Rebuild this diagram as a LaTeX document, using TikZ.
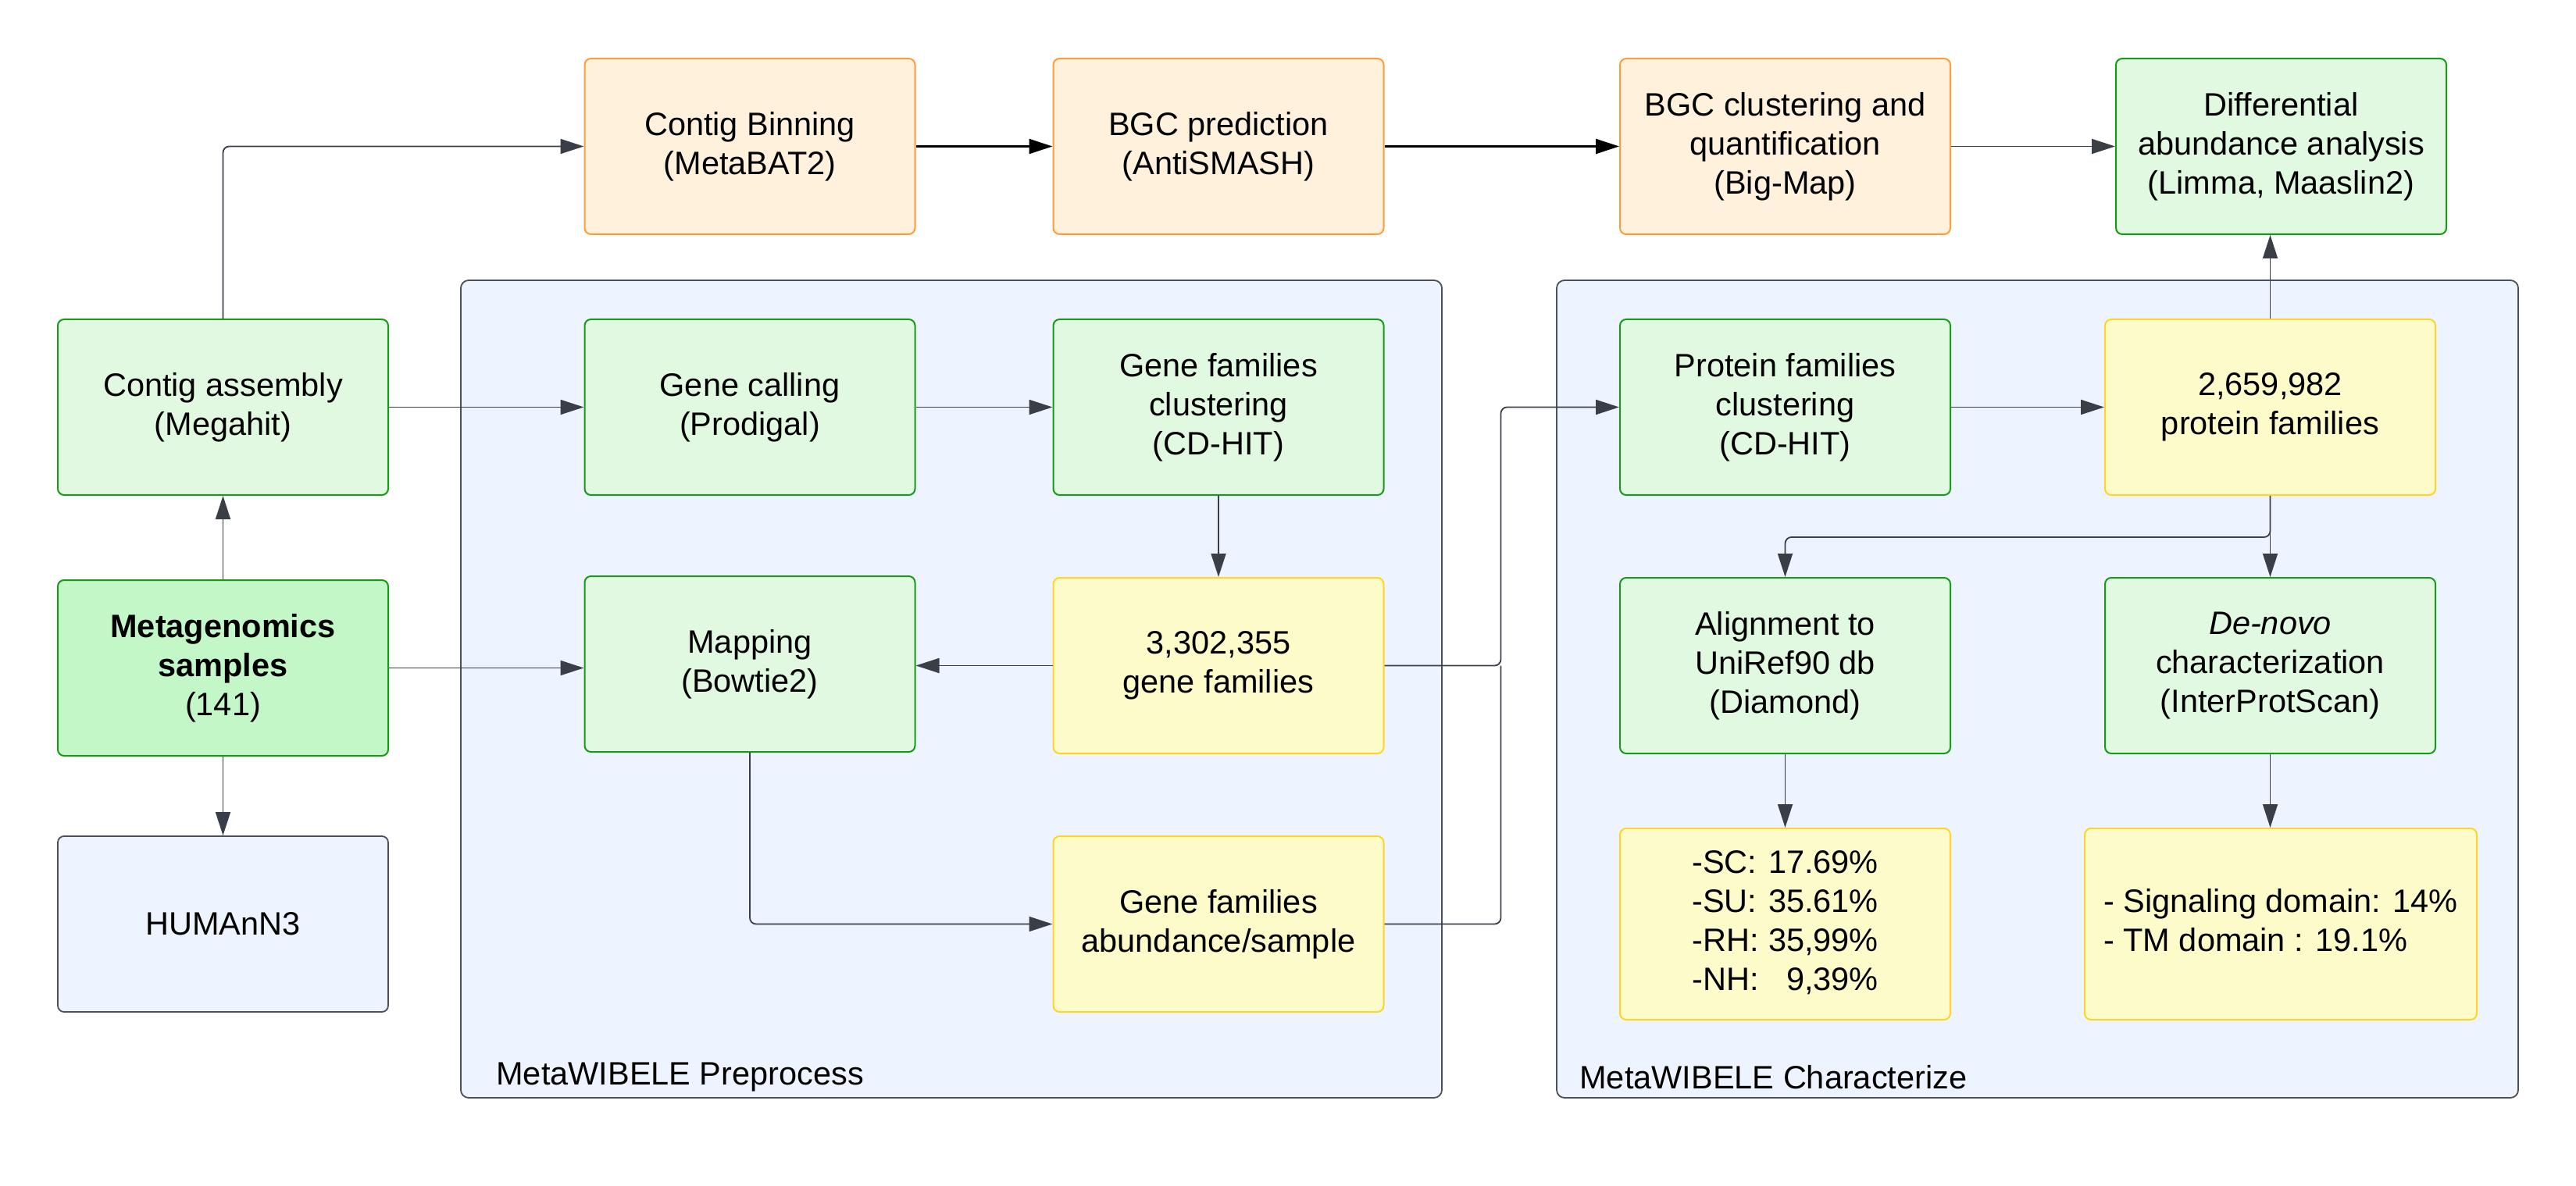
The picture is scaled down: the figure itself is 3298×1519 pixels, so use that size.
\documentclass[tikz,border=0pt]{standalone}
\usepackage{fontspec}
\setmainfont{Liberation Sans}
\usetikzlibrary{arrows.meta}
\definecolor{orfill}{HTML}{FFF1DB}
\definecolor{ordraw}{HTML}{FF9C3A}
\definecolor{grfill}{HTML}{E2F9E1}
\definecolor{grdraw}{HTML}{169B16}
\definecolor{mgfill}{HTML}{C3F7C8}
\definecolor{yefill}{HTML}{FDFBC9}
\definecolor{yedraw}{HTML}{FFD426}
\definecolor{blfill}{HTML}{EDF4FF}
\definecolor{bldraw}{HTML}{4B5059}
\definecolor{arr}{HTML}{3A3F47}
\newcommand{\mainsz}{\fontsize{20.75pt}{25pt}\selectfont}
\tikzset{
  box/.style={rectangle, rounded corners=4pt, minimum width=211.5pt, minimum height=112.5pt,
    align=center, line width=1pt, inner sep=0pt, font=\mainsz},
  orbox/.style={box, fill=orfill, draw=ordraw},
  grbox/.style={box, fill=grfill, draw=grdraw},
  mgbox/.style={box, fill=mgfill, draw=grdraw},
  yebox/.style={box, fill=yefill, draw=yedraw},
  blbox/.style={box, fill=blfill, draw=bldraw, line width=0.9pt},
  container/.style={fill=blfill, draw=bldraw, line width=0.9pt, rounded corners=5pt},
  conlabel/.style={anchor=west, inner sep=0pt, font=\mainsz},
  link/.style={draw=arr, line width=0.9pt, rounded corners=4pt, -{Triangle[length=15pt,width=9.5pt]}},
  plain/.style={draw=arr, line width=0.9pt, rounded corners=4pt},
  blink/.style={draw=black, line width=1.2pt, -{Triangle[length=15pt,width=9.5pt]}}
}
\begin{document}
\begin{tikzpicture}[x=0.5pt,y=-0.5pt]
\useasboundingbox (0,0) rectangle (3298,1519);
\fill[white] (0,0) rectangle (3298,1519);
% containers
\draw[container] (590,359) rectangle (1846,1406);
\draw[container] (1993,359) rectangle (3224,1406);
\node[conlabel] (prelab) at (635,1380) {MetaWIBELE Preprocess};
\node[conlabel] (charlab) at (2022,1380) {MetaWIBELE Characterize};
% top row
\node[orbox] (contigbin) at (960,187.5) {Contig Binning\\(MetaBAT2)};
\node[orbox] (bgcpred) at (1560,187.5) {BGC prediction\\(AntiSMASH)};
\node[orbox] (bgcclust) at (2285.5,187.5) {BGC clustering and\\quantification\\(Big-Map)};
\node[grbox] (diff) at (2920.5,187.5) {Differential\\abundance analysis\\(Limma, Maaslin2)};
% second row
\node[grbox] (contigasm) at (285.5,521.5) {Contig assembly\\(Megahit)};
\node[grbox] (genecall) at (960,521.5) {Gene calling\\(Prodigal)};
\node[grbox] (geneclust) at (1560,521.5) {Gene families\\clustering\\(CD-HIT)};
\node[grbox] (protclust) at (2285.5,521.5) {Protein families\\clustering\\(CD-HIT)};
\node[yebox] (protfam) at (2906.5,521.5) {2,659,982\\protein families};
% third row
\node[mgbox] (meta) at (285.5,855.5) {\textbf{Metagenomics}\\\textbf{samples}\\(141)};
\node[grbox] (mapping) at (960,850.5) {Mapping\\(Bowtie2)};
\node[yebox] (genefam) at (1560,852.5) {3,302,355\\gene families};
\node[grbox] (align) at (2285.5,852.5) {Alignment to\\UniRef90 db\\(Diamond)};
\node[grbox] (denovo) at (2906.5,852.5) {\textit{De-novo}\\characterization\\(InterProtScan)};
% bottom row
\node[blbox] (humann) at (285.5,1183.5) {HUMAnN3};
\node[yebox] (abund) at (1560,1183.5) {Gene families\\abundance/sample};
\node[yebox, minimum height=122.5pt] (sc) at (2285.5,1183.5) {\begin{tabular}{@{}l@{\hspace{0.3em}}r@{}}-SC: & 17.69\%\\-SU: & 35.61\%\\-RH: & 35,99\%\\-NH: & 9,39\%\end{tabular}};
\node[yebox, minimum width=251pt, minimum height=122.5pt] (signal) at (2920,1183.5) {\begin{tabular}{@{}l@{}}- Signaling domain: 14\%\\- TM domain : 19.1\%\end{tabular}};
% junction coordinate
\coordinate (jx) at (1921.5,522);
% connectors
\draw[link] (contigasm.north) |- (contigbin.west);
\draw[blink] (contigbin.east) -- (bgcpred.west);
\draw[blink] (bgcpred.east) -- (bgcclust.west);
\draw[link] (bgcclust.east) -- (diff.west);
\draw[link] (protfam.north) -- (protfam.north |- diff.south);
\draw[link] (contigasm.east) -- (genecall.west);
\draw[link] (genecall.east) -- (geneclust.west);
\draw[link] (geneclust.south) -- (genefam.north);
\draw[link] (genefam.west) -- (genefam.west -| mapping.east);
\draw[link] (meta.east) -- (meta.east -| mapping.west);
\draw[link] (meta.north) -- (contigasm.south);
\draw[link] (meta.south) -- (humann.north);
\draw[link] (mapping.south) |- (abund.west);
\draw[link] (genefam.east) -- (jx |- genefam.east) -- (jx |- protclust.west) -- (protclust.west);
\draw[plain] (abund.east) -- (jx |- abund.east) -- (jx |- genefam.east);
\draw[link] (protclust.east) -- (protfam.west);
\draw[link] (protfam.south) -- ++(0,53) -| (align.north);
\draw[link] (protfam.south) -- (denovo.north);
\draw[link] (align.south) -- (sc.north);
\draw[link] (denovo.south) -- (denovo.south |- signal.north);
\end{tikzpicture}
\end{document}
